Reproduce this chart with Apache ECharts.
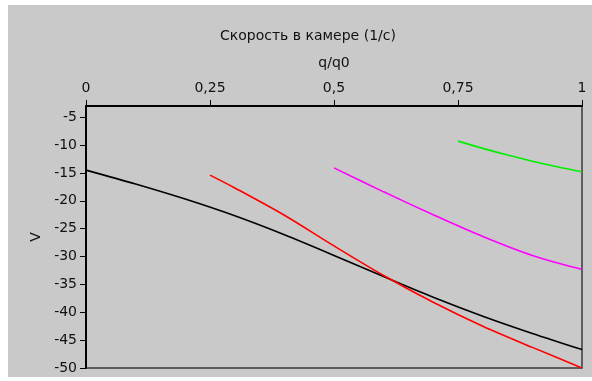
<!DOCTYPE html>
<html>
<head>
<meta charset="utf-8">
<script src="https://cdn.jsdelivr.net/npm/echarts@6/dist/echarts.min.js"></script>
<style>
  html, body { margin: 0; padding: 0; background: #fff; }
  #chart { width: 592px; height: 381px; }
</style>
</head>
<body>
<div id="chart"></div>
<script>
// q/q0 positions and V values
const qBlack = [0, 0.1, 0.2, 0.3, 0.4, 0.5, 0.6, 0.7, 0.8, 0.9, 1];
const vBlack = [-14.5, -17.0, -19.7, -22.7, -26.1, -29.8, -33.6, -37.3, -40.7, -43.8, -46.7];

const qRed = [0.25, 0.3, 0.4, 0.5, 0.6, 0.7, 0.8, 0.9, 1];
const vRed = [-15.4, -17.7, -22.6, -28.1, -33.4, -38.2, -42.5, -46.3, -50];

const qMagenta = [0.5, 0.6, 0.7, 0.8, 0.9, 1];
const vMagenta = [-14.1, -18.4, -22.5, -26.4, -29.8, -32.3];

const qGreen = [0.75, 0.8, 0.85, 0.9, 0.95, 1];
const vGreen = [-9.3, -10.6, -11.8, -12.9, -13.9, -14.8];

function pairs(xs, ys) {
  return xs.map((x, i) => [x, ys[i]]);
}

const LABEL = { fontFamily: "DejaVu Sans", fontSize: 14, color: "#111" };

const chart = echarts.init(document.getElementById("chart"));

const mkLine = (xs, ys, color) => ({
  type: "line",
  data: pairs(xs, ys),
  smooth: 0.3,
  symbol: "none",
  lineStyle: { color: color, width: 1.6 },
  z: 3,
});

chart.setOption({
  animation: false,
  backgroundColor: "transparent",
  graphic: [
    {
      type: "rect",
      z: -10,
      shape: { x: 8, y: 5, width: 584, height: 372 },
      style: { fill: "#c9c9c9" },
    },
  ],
  title: {
    text: "Скорость в камере (1/с)",
    left: 215,
    top: 24,
    textStyle: { fontFamily: "DejaVu Sans", fontSize: 14, fontWeight: "normal", color: "#111" },
  },
  grid: {
    left: 86,
    right: 10,
    top: 106,
    bottom: 13,
    show: true,
    borderColor: "#3a3a3a",
    borderWidth: 1.5,
    backgroundColor: "transparent",
  },
  xAxis: {
    type: "value",
    position: "top",
    min: 0,
    max: 1,
    interval: 0.25,
    name: "q/q0",
    nameLocation: "middle",
    nameGap: 36,
    nameTextStyle: LABEL,
    axisLine: { show: true, lineStyle: { color: "#000", width: 2 } },
    axisTick: { show: true, length: 6, lineStyle: { color: "#000", width: 1 } },
    axisLabel: Object.assign({ margin: 11, formatter: (v) => String(v).replace(".", ",") }, LABEL),
    splitLine: { show: false },
  },
  yAxis: {
    type: "value",
    min: -50,
    max: -3,
    interval: 5,
    name: "V",
    nameLocation: "middle",
    nameGap: 43,
    nameTextStyle: LABEL,
    axisLine: { show: true, lineStyle: { color: "#000", width: 2 } },
    axisTick: { show: true, length: 6, lineStyle: { color: "#000", width: 1 } },
    axisLabel: Object.assign({ margin: 9, showMaxLabel: false }, LABEL),
    splitLine: { show: false },
  },
  series: [
    mkLine(qBlack, vBlack, "#000000"),
    mkLine(qRed, vRed, "#ff0000"),
    mkLine(qMagenta, vMagenta, "#ff00ff"),
    mkLine(qGreen, vGreen, "#00ee00"),
  ],
});
</script>
</body>
</html>
